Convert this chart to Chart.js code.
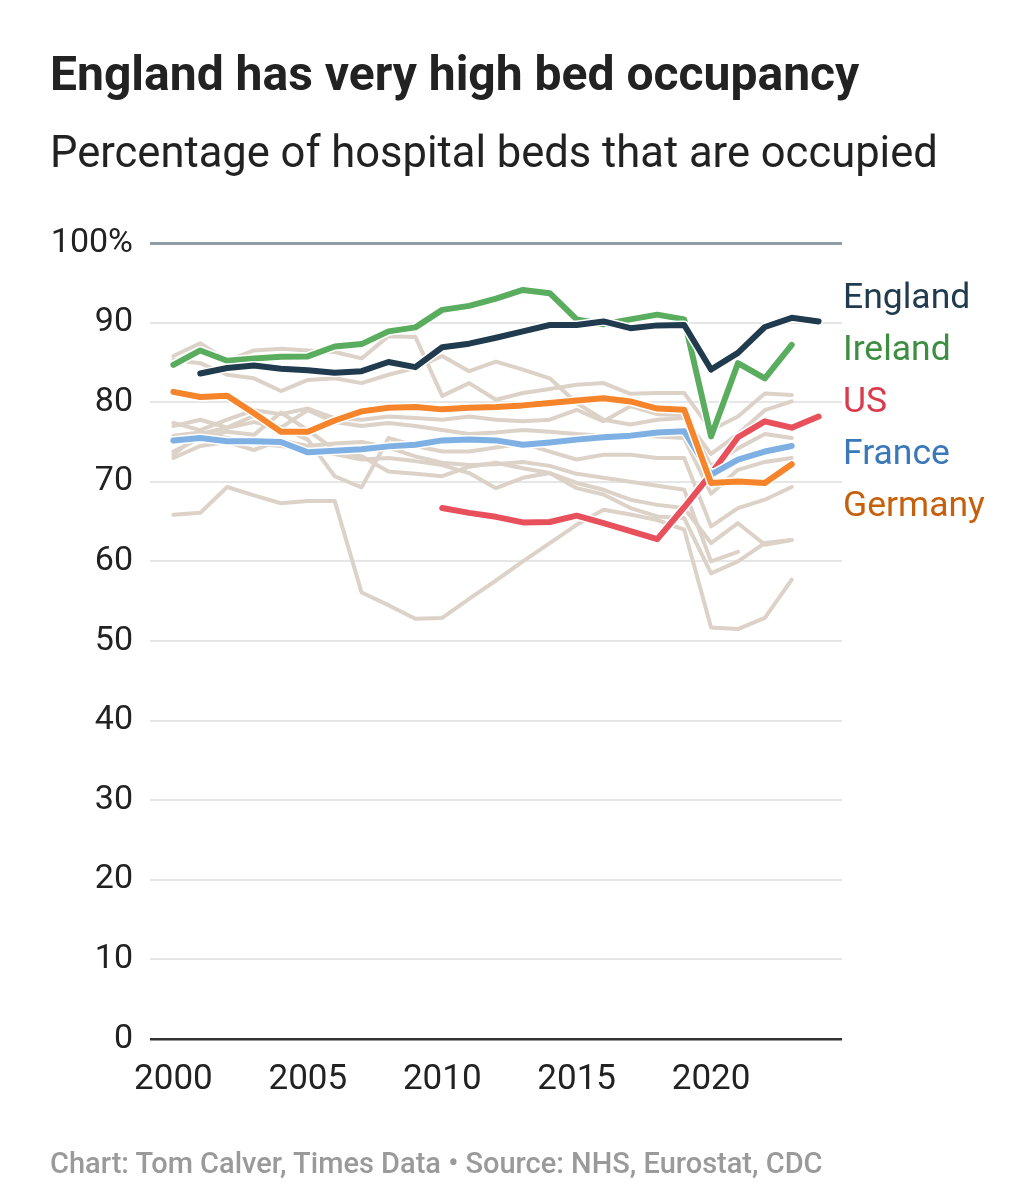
<!DOCTYPE html>
<html>
<head>
<meta charset="utf-8">
<script src="https://cdn.jsdelivr.net/npm/chart.js@4.4.1/dist/chart.umd.min.js"></script>
<style>
  body { margin: 0; background: #fff; font-family: Roboto, "Noto Sans", sans-serif; }
  #wrap { position: relative; width: 1035px; height: 1200px; overflow: hidden; }
  #chart { position: absolute; left: 0; top: 0; }
  .title { position: absolute; left: 50px; top: 50px; font-size: 48px; line-height: 48px; font-weight: 700; color: #222; white-space: nowrap; }
  .subtitle { position: absolute; left: 50px; top: 131px; font-size: 43.5px; line-height: 43.5px; font-weight: 400; color: #222; white-space: nowrap; }
  .footer { position: absolute; left: 50px; top: 1149px; font-size: 29px; line-height: 29px; font-weight: 500; color: #9a9a9a; white-space: nowrap; }
</style>
</head>
<body>
<div id="wrap">
  <canvas id="chart" width="1035" height="1200"></canvas>
  <div class="title">England has very high bed occupancy</div>
  <div class="subtitle">Percentage of hospital beds that are occupied</div>
  <div class="footer">Chart: Tom Calver, Times Data • Source: NHS, Eurostat, CDC</div>
</div>
<script>
// years on the x axis
const years = [2000, 2001, 2002, 2003, 2004, 2005, 2006, 2007, 2008, 2009, 2010, 2011, 2012,
               2013, 2014, 2015, 2016, 2017, 2018, 2019, 2020, 2021, 2022, 2023, 2024];
const xTicks = [2000, 2005, 2010, 2015, 2020];
const yTicks = [0, 10, 20, 30, 40, 50, 60, 70, 80, 90, 100];

// highlighted series (% of beds occupied)
const england = [null, 83.6, 84.3, 84.6, 84.2, 84.0, 83.7, 83.9, 85.05, 84.4, 86.9, 87.35, 88.1,
                 88.9, 89.7, 89.7, 90.15, 89.3, 89.65, 89.7, 84.1, 86.2, 89.45, 90.6, 90.15];
const ireland = [84.7, 86.5, 85.2, 85.5, 85.7, 85.75, 87.0, 87.3, 88.9, 89.4, 91.6, 92.1, 93.0,
                 94.1, 93.7, 90.4, 89.8, 90.4, 91.0, 90.4, 75.7, 84.9, 83.0, 87.2, null];
const us = [null, null, null, null, null, null, null, null, null, null, 66.7, 66.1, 65.6,
            64.9, 64.95, 65.75, 64.8, 63.8, 62.8, 66.8, 71.0, 75.6, 77.6, 76.8, 78.2];
const france = [75.2, 75.5, 75.1, 75.1, 75.0, 73.7, 73.9, 74.1, 74.45, 74.65, 75.2, 75.3, 75.2,
                74.65, 74.95, 75.3, 75.6, 75.8, 76.2, 76.35, 70.9, 72.8, 73.8, 74.5, null];
const germany = [81.3, 80.65, 80.8, 78.6, 76.3, 76.3, 77.7, 78.85, 79.3, 79.4, 79.1, 79.3, 79.4,
                 79.6, 79.9, 80.2, 80.5, 80.1, 79.2, 79.05, 69.85, 70.05, 69.85, 72.2, null];

// other countries, drawn in the background
const grey1 = [65.85, 66.1, 69.35, 68.3, 67.3, 67.6, 67.6, 56.1, 54.5, 52.8, 52.9, 55.3, 57.6,
               60.0, 62.3, 64.6, 66.5, 65.9, 65.2, 64.0, 51.7, 51.5, 52.9, 57.7, null];
const grey2 = [85.8, 87.4, 85.2, 86.5, 86.7, 86.5, 86.3, 85.5, 88.3, 88.2, 80.8, 82.4, 80.3,
               81.15, 81.65, 82.2, 82.4, 81.05, 81.15, 81.15, 76.5, 78.2, 81.1, 80.9, null];
const grey3 = [85.3, 84.9, 83.45, 83.0, 81.4, 82.8, 83.0, 82.4, 83.45, 84.3, 85.8, 83.9, 85.1,
               84.1, 83.0, 79.9, 77.8, 77.2, 77.8, 78.0, 73.5, 76.0, 79.0, 80.1, null];
const grey4 = [77.4, 76.5, 77.8, 79.0, 78.5, 79.2, 78.0, 77.8, 78.2, 78.0, 77.8, 78.2, 77.8,
               77.6, 77.8, 79.05, 77.6, 79.5, 78.5, 78.4, 72.0, 74.2, 76.0, 75.5, null];
const grey5 = [77.0, 77.8, 76.8, 78.3, 76.8, 79.0, 77.5, 77.0, 77.4, 77.0, 76.5, 76.0, 76.2,
               76.5, 76.3, 76.0, 75.8, 76.0, 75.7, 75.5, 68.5, 71.5, 72.5, 73.0, null];
const grey6 = [73.4, 76.0, 76.8, 77.5, 76.8, 75.3, 70.7, 69.3, 75.5, 74.5, 73.8, 73.8, 74.3,
               74.85, 73.8, 72.8, 73.4, 73.4, 73.0, 73.0, 64.4, 66.7, 67.75, 69.35, null];
const grey7 = [73.8, 75.5, 76.3, 75.9, 78.7, 76.5, 74.0, 73.2, 71.3, 71.0, 70.7, 71.9, 72.4,
               71.7, 71.1, 69.85, 69.0, 67.75, 67.1, 66.7, 62.3, 64.8, 62.1, 62.7, null];
const grey8 = [75.8, 76.2, 75.5, 74.8, 74.5, 74.0, 73.5, 72.8, 73.0, 72.6, 72.1, 71.1, 69.2,
               70.5, 71.1, 69.2, 68.4, 66.7, 65.65, 65.45, 58.5, 60.0, 62.3, 62.7, null];
const grey9 = [73.0, 74.5, 75.0, 74.0, 75.2, 74.5, 74.8, 75.0, 74.3, 73.2, 72.4, 72.1, 72.2,
               72.5, 72.0, 71.0, 70.5, 70.0, 69.5, 69.0, 60.0, 61.2, null, null, null];
const greyLines = [grey1, grey2, grey3, grey4, grey5, grey6, grey7, grey8, grey9];

// end labels and the value at which each label sits
const labelNames = ['England', 'Ireland', 'US', 'France', 'Germany'];
const labelAt = [93.0, 86.4, 79.9, 73.4, 66.8];

const seriesList = [england, ireland, germany, france, us];
const seriesColors = ['#1f3b4d', '#5aad5e', '#f5842a', '#7eb0e3', '#e8505b'];
const textColors = {England: '#1f3b4d', Ireland: '#3e8e41', US: '#d93a4c', France: '#3a78b8', Germany: '#c6600c'};

function toPoints(arr) {
  const pts = [];
  arr.forEach((v, i) => { if (v !== null) pts.push({x: years[i], y: v}); });
  return pts;
}

const datasets = [];
// first dataset is drawn on top, so highlighted lines come first, each followed by its white halo
seriesList.forEach((s, i) => {
  datasets.push({data: toPoints(s), borderColor: seriesColors[i], borderWidth: 6});
  datasets.push({data: toPoints(s), borderColor: '#ffffff', borderWidth: 9});
});
greyLines.forEach(g => {
  datasets.push({data: toPoints(g), borderColor: '#dcd2c8', borderWidth: 4});
});
datasets.forEach(d => {
  d.pointRadius = 0;
  d.borderCapStyle = 'round';
  d.borderJoinStyle = 'round';
  d.tension = 0;
  d.fill = false;
});

//draws the country names right of the plot
const endLabels = {
  id: 'endLabels',
  afterDatasetsDraw(chart) {
    const {ctx, chartArea, scales} = chart;
    ctx.save();
    ctx.font = '35.5px Roboto';
    ctx.textAlign = 'left';
    ctx.textBaseline = 'middle';
    labelNames.forEach((n, i) => {
      ctx.fillStyle = textColors[n];
      ctx.fillText(n, chartArea.right + 1, scales.y.getPixelForValue(labelAt[i]));
    });
    ctx.restore();
  }
};

new Chart(document.getElementById('chart'), {
  type: 'line',
  data: {datasets: datasets},
  options: {
    responsive: false,
    animation: false,
    events: [],
    layout: {padding: {left: 0, right: 193, top: 243, bottom: 0}},
    plugins: {legend: {display: false}, tooltip: {enabled: false}},
    scales: {
      x: {
        type: 'linear',
        min: 1999.13,
        max: 2024.87,
        afterBuildTicks: s => { s.ticks = xTicks.map(v => ({value: v})); },
        afterFit: s => { s.height = 161; },
        grid: {display: false, drawTicks: false},
        border: {display: false},
        ticks: {
          font: {family: 'Roboto', size: 35},
          color: '#222',
          padding: 20,
          maxRotation: 0,
          autoSkip: false,
          callback: v => String(v)
        }
      },
      y: {
        min: 0,
        max: 100,
        afterBuildTicks: s => { s.ticks = yTicks.map(v => ({value: v})); },
        afterFit: s => { s.width = 150; },
        grid: {
          drawTicks: false,
          color: c => c.tick.value === 0 ? '#333333' : (c.tick.value === 100 ? '#8f9ca4' : '#e6e6e6'),
          lineWidth: c => c.tick.value === 0 ? 2.5 : (c.tick.value === 100 ? 3 : 2)
        },
        border: {display: false},
        ticks: {
          font: {family: 'Roboto', size: 34},
          color: '#222',
          padding: 17,
          callback: v => v === 100 ? '100%' : String(v)
        }
      }
    }
  },
  plugins: [endLabels]
});
</script>
</body>
</html>
